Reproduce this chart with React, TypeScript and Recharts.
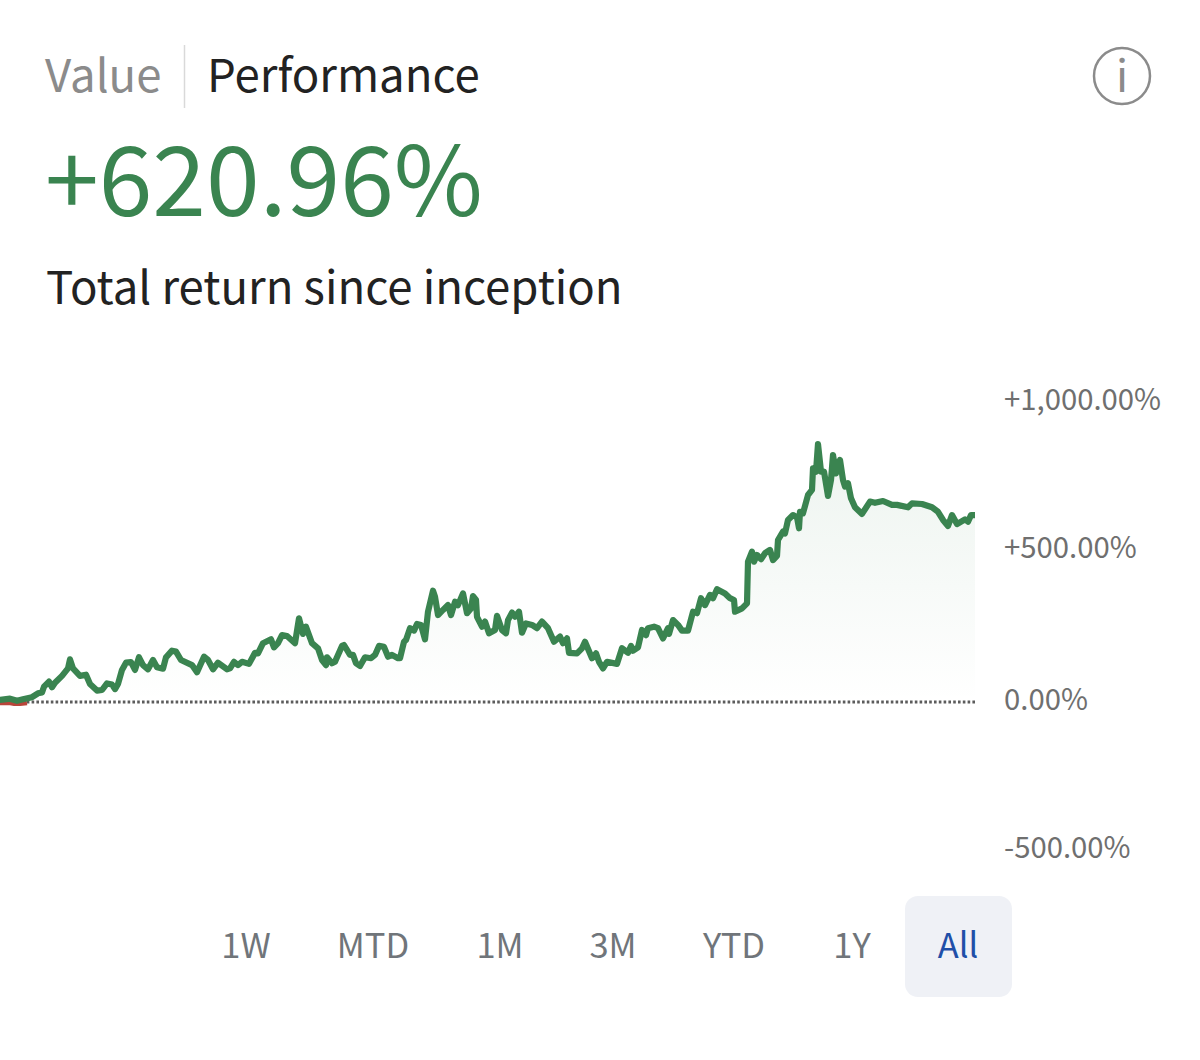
import React from "react";
import { ComposedChart, Area, Line, XAxis, YAxis, ReferenceLine } from "recharts";

const timeline = [0,10,17,23,32,38,42,44,49,52,55,62,68,70,73,80,86,90,97,102,107,112,115,118,122,126,131,135,139,143,148,153,157,163,166,172,176,181,192,197,204,208,213,218,227,230,234,238,242,249,255,258,263,271,274,278,282,287,295,299,303,306,312,318,322,326,327,332,335,342,344,350,353,356,360,365,371,375,379,384,388,392,398,
400,404,406,410,414,417,421,425,428,433,435,438,443,448,451,455,458,463,467,471,473,476,477,482,485,489,495,497,502,506,508,512,515,519,522,526,532,537,542,548,554,560,563,567,569,577,582,585,592,596,599,603,607,617,622,628,631,633,638,642,646,648,654,658,663,668,669,673,678,682,688,693,697,701,705,710,713,717,725,730,734,
735,742,747,748,752,754,757,761,765,770,773,777,778,783,785,788,793,797,799,800,803,808,812,813,816,818,821,824,828,831,833,836,840,843,845,848,851,855,862,870,875,883,892,897,908,912,922,932,938,943,948,952,957,965,968,971,975];
const returns = [7,11,4,9,16,29,32,51,68,49,64,87,112,142,112,87,91,60,38,40,62,58,43,60,107,131,133,107,149,123,109,140,116,111,149,171,168,140,123,99,151,140,109,131,109,112,134,123,134,127,164,162,196,209,182,196,223,220,196,279,227,251,196,179,140,123,149,129,134,187,190,157,157,129,120,149,146,157,187,184,151,157,146,
146,201,207,246,238,260,257,209,301,371,351,290,307,323,290,334,323,362,296,312,353,340,284,251,268,229,240,287,240,229,273,298,284,301,231,262,257,246,268,246,201,218,196,212,164,162,179,201,146,162,134,112,134,127,179,164,187,171,182,240,223,246,251,246,212,246,227,273,257,238,238,301,296,346,323,357,346,376,362,346,340,
301,312,329,468,501,468,490,476,496,507,473,487,540,568,562,607,623,616,579,634,629,690,707,779,768,860,768,768,687,740,823,762,807,740,718,729,679,649,627,668,664,670,657,657,649,662,660,649,634,607,587,623,593,609,601,623,623];
const belowZeroTimeline = [0, 9, 14, 20, 27];
const belowZeroReturns = [-3, -3, -6, -6, -3];
const yTicks = [-500, 0, 500, 1000];
const tickLabels: Record<number, string> = { [-500]: "-500.00%", 0: "0.00%", 500: "+500.00%", 1000: "+1,000.00%" };
const ranges = ["1W", "MTD", "1M", "3M", "YTD", "1Y", "All"];
const rangeCenters = [246, 373, 500, 613, 734, 852, 958];

const font = '"Noto Sans CJK SC", "Noto Sans", sans-serif';
const green = "#3a8450";

const rows: { t: number; ret?: number; neg?: number }[] = timeline.map((t, i) => ({ t, ret: returns[i] }));
belowZeroTimeline.forEach((t, i) => {
  const hit = rows.find((r) => r.t === t);
  if (hit) hit.neg = belowZeroReturns[i];
  else rows.push({ t, neg: belowZeroReturns[i] });
});
rows.sort((a, b) => a.t - b.t);

export default function App() {
  return (
    <div style={{ position: "absolute", left: 0, top: 0, width: 1200, height: 1060, background: "#fff", overflow: "hidden" }}>
      <svg width={1200} height={1060} style={{ position: "absolute", left: 0, top: 0 }} fontFamily={font}>
        <text x={45} y={92} fontSize={45.5} fill="#8b8b8b">Value</text>
        <line x1={184.5} x2={184.5} y1={45} y2={108} stroke="#d9d9d9" strokeWidth={1.5} />
        <text x={207} y={92} fontSize={45.5} fill="#222">Performance</text>
        <circle cx={1122} cy={76} r={28} fill="none" stroke="#8b8b8b" strokeWidth={2.5} />
        <text x={1122} y={92} fontSize={44} fill="#8b8b8b" textAnchor="middle">i</text>
        <text x={45} y={216} fontSize={96.7} fill={green}>+620.96%</text>
        <text x={46} y={304} fontSize={45.5} fill="#222">Total return since inception</text>
        <rect x={905} y={896} width={107} height={101} rx={13} fill="#eff1f6" />
        {ranges.map((r, i) => (
          <text key={r} x={rangeCenters[i]} y={958} fontSize={34.5} textAnchor="middle" fill={r === "All" ? "#1f4fa8" : "#70757a"}>{r}</text>
        ))}
      </svg>
      <div style={{ position: "absolute", left: 0, top: 0 }}>
        <ComposedChart width={1200} height={1060} data={rows} margin={{ top: 402, bottom: 208, left: 0, right: 0 }}>
          <defs>
            <linearGradient id="retFill" x1="0" y1="0" x2="0" y2="1">
              <stop offset="0%" stopColor={green} stopOpacity={0.15} />
              <stop offset="100%" stopColor={green} stopOpacity={0} />
            </linearGradient>
          </defs>
          <XAxis dataKey="t" type="number" domain={[0, 975]} hide allowDataOverflow />
          <YAxis
            orientation="right"
            width={225}
            domain={[-500, 1000]}
            ticks={yTicks}
            axisLine={false}
            tickLine={false}
            tickSize={0}
            interval={0}
            tick={({ y, payload }: any) => (
              <text x={1004} y={y + (payload.value === 500 || payload.value === -500 ? 6 : 7.5)} fontSize={29.3} fontFamily={font} fill="#6f6f6f">{tickLabels[payload.value]}</text>
            )}
          />
          <ReferenceLine y={0} stroke="#5c5c5c" strokeWidth={3} strokeDasharray="2.6 2.2" segment={[{ x: 0, y: 0 }, { x: 973, y: 0 }]} />
          <Area dataKey="ret" type="linear" stroke="none" fill="url(#retFill)" baseValue={0} connectNulls isAnimationActive={false} dot={false} activeDot={false} />
          <Line dataKey="neg" type="linear" stroke="#b8453a" strokeWidth={4.5} connectNulls dot={false} activeDot={false} isAnimationActive={false} />
          <Line dataKey="ret" type="linear" stroke={green} strokeWidth={6.2} strokeLinejoin="round" strokeLinecap="round" connectNulls dot={false} activeDot={false} isAnimationActive={false} />
        </ComposedChart>
      </div>
    </div>
  );
}
